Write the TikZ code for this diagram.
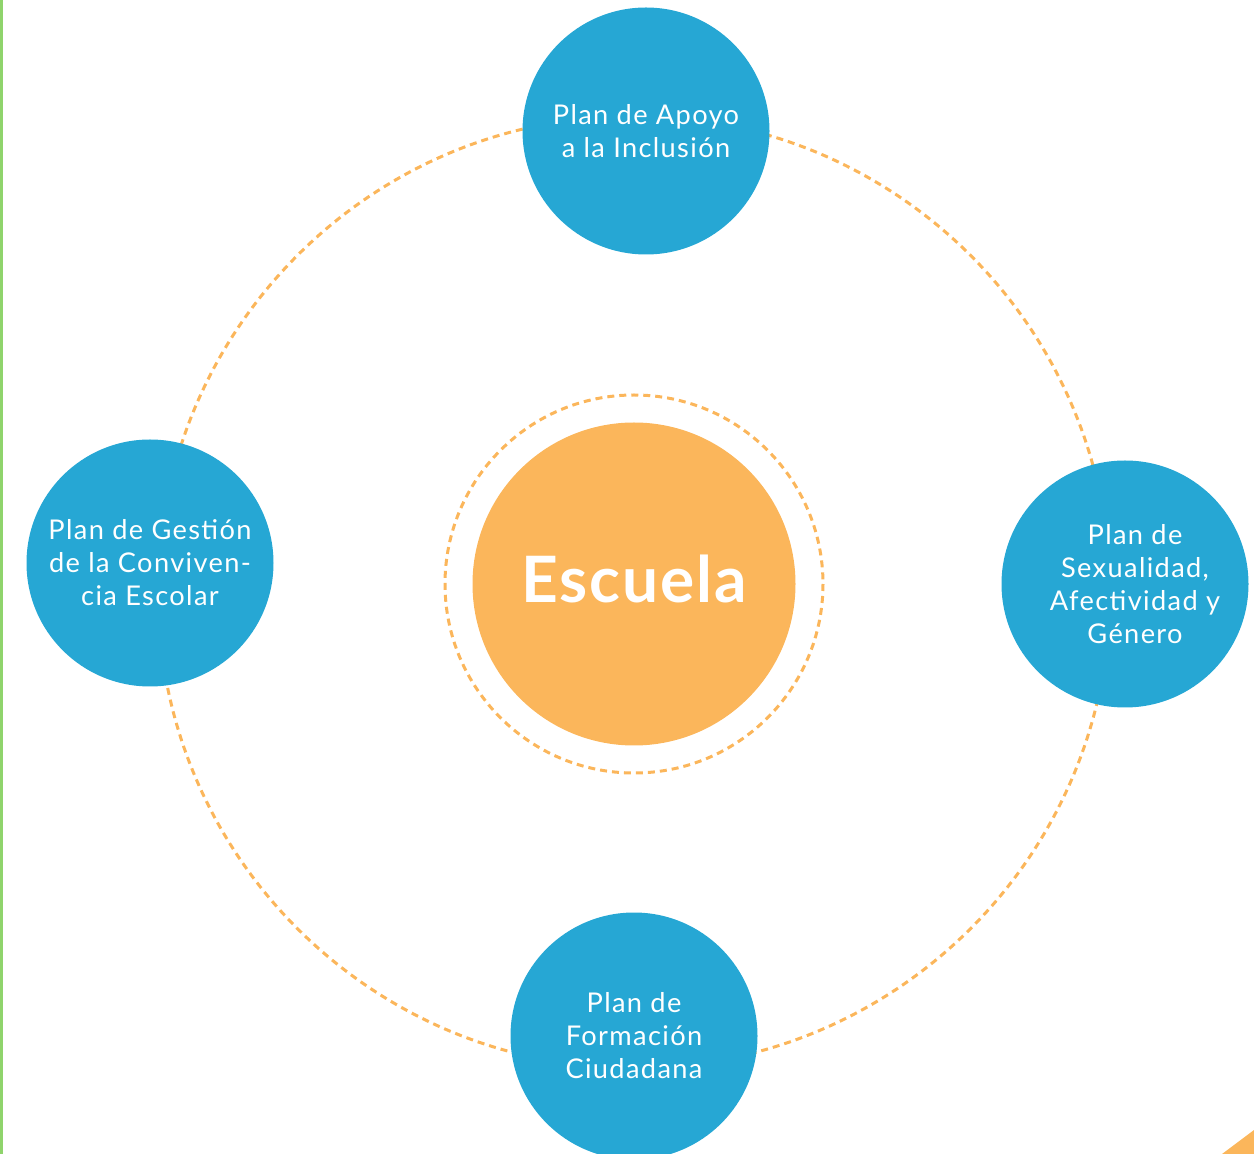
\documentclass[tikz,border=0pt]{standalone}
\usepackage{fontspec}
\setmainfont{Lato}
\newfontfamily\planfont[LetterSpace=5]{Lato}
\newfontfamily\escuelafont[LetterSpace=3]{Lato}
\usepackage{tikz}
\definecolor{planblue}{HTML}{26A7D4}
\definecolor{naranja}{HTML}{FBB65B}
\definecolor{verde}{HTML}{8FD46C}
\tikzstyle{plan} = [circle, minimum size=123.5pt, inner sep=0pt, fill=planblue, text=white, align=center, font=\planfont\fontsize{13.6}{16.5}\selectfont]
\tikzstyle{centro} = [circle, minimum size=161.5pt, inner sep=0pt, fill=naranja, text=white, font=\escuelafont\fontsize{32}{40}\selectfont\bfseries]
\tikzstyle{ring} = [draw=naranja, line width=1.5pt, dash pattern=on 3.5pt off 2.5pt]

\begin{document}
\begin{tikzpicture}[x=0.5pt, y=-0.5pt]
        \useasboundingbox (0,0) rectangle (1254,1154);
        \clip (0,0) rectangle (1254,1154);
        % borde y esquina
        \fill[verde] (0,0) rectangle (2.5,1154);
        \fill[naranja] (1222,1154) -- (1254,1130) -- (1254,1154) -- cycle;
        % anillos
        \coordinate (c) at (634,592);
        \draw[ring] (c) circle (476);
        \draw[ring] (634,584) circle (189);
        \node (escuela) [centro] at (634,584) {\raisebox{5pt}{Escuela}};
        \node (apoyo) [plan] at (646,131) {Plan de Apoyo\\a la Inclusión};
        \node (convivencia) [plan] at (150,563) {Plan de Gestión\\de la Conviven-\\cia Escolar};
        \node (sexualidad) [plan] at (1125,584) {\hspace*{10pt}Plan de\\\hspace*{10pt}Sexualidad,\\\hspace*{10pt}Afectividad y\\\hspace*{10pt}Género};
        \node (formacion) [plan] at (634,1036) {Plan de\\Formación\\Ciudadana};
    \end{tikzpicture}
\end{document}
